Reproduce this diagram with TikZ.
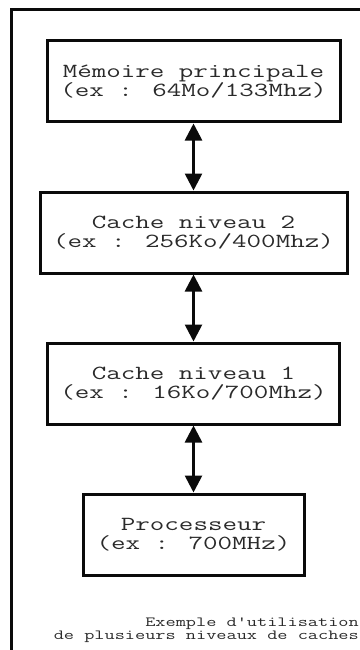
\documentclass[tikz,border=0pt]{standalone}
\usepackage{fontspec}
\newfontfamily\courfont{Latin Modern Mono}[FakeStretch=1.41]
\usepackage{xcolor}
\definecolor{trait}{HTML}{0A0A0A}
\definecolor{texte}{HTML}{2A2A2A}
\usepackage{tikz}
\usetikzlibrary{arrows.meta, positioning}
\tikzset{
  membox/.style ={rectangle, draw=trait, line width=3pt, fill=white, text=texte, align=center,
                  inner sep=4pt, minimum height=81pt, font=\courfont\fontsize{20}{19.5}\selectfont},
  marr/.style   ={{Triangle[length=17pt, width=17pt]}-{Triangle[length=17pt, width=17pt]}, line width=2.7pt, color=trait},
  cadre/.style  ={draw=trait, line width=3pt},
  legende/.style={text=texte, align=right, inner sep=0pt, font=\courfont\fontsize{14}{13}\selectfont},
}
\begin{document}
\begin{tikzpicture}[x=1pt, y=1pt, node distance=67pt]
  \useasboundingbox (0,-650) rectangle (359,0);
  \draw[cadre] (11.5,-10) rectangle (380,-670);
  \node[membox, minimum width=293pt] (mem) at (193.5,-81.5) {Mémoire principale\\(ex : 64Mo/133Mhz)};
  \node[membox, minimum width=307pt, below=of mem] (l2) {Cache niveau 2\\(ex : 256Ko/400Mhz)};
  \node[membox, minimum width=292pt, below=of l2] (l1) {Cache niveau 1\\(ex : 16Ko/700Mhz)};
  \node[membox, minimum width=221pt, below=of l1] (cpu) {Processeur\\(ex : 700MHz)};
  \draw[marr] (mem) -- (l2); \draw[marr] (l2) -- (l1); \draw[marr] (l1) -- (cpu);
  \node[legende, anchor=south east] (leg) at (359,-643) {Exemple d'utilisation\\de plusieurs niveaux de caches};
\end{tikzpicture}
\end{document}
